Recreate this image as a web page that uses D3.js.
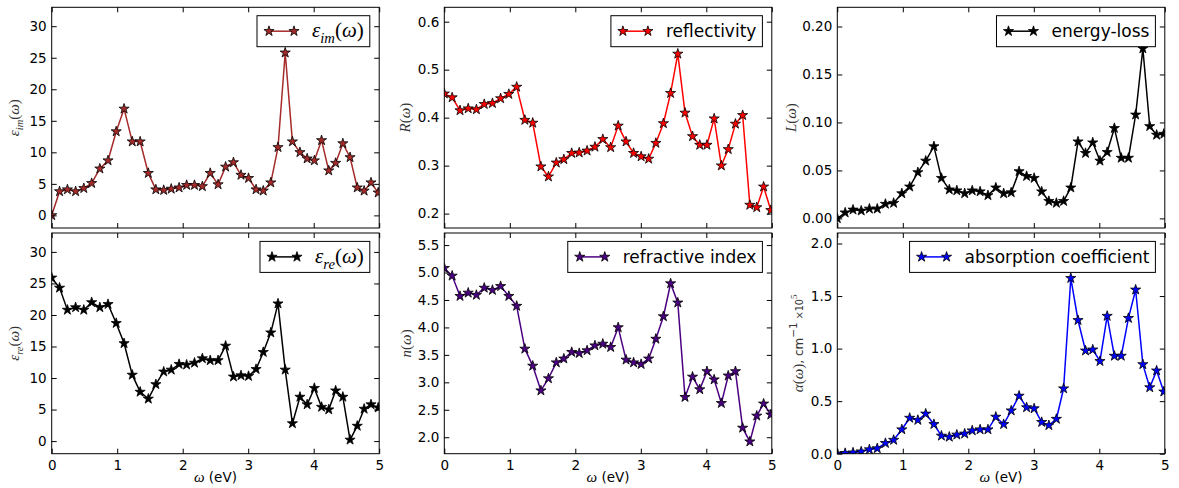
<!DOCTYPE html>
<html>
<head>
<meta charset="utf-8">
<script src="https://cdn.jsdelivr.net/npm/d3@7"></script>
<style>
body { margin: 0; background: #fff; }
svg { display: block; font-family: "DejaVu Sans", sans-serif; }
</style>
</head>
<body>
<div id="chart"></div>
<script>
// photon energy grid (eV)
var omega = [0, 0.12, 0.24, 0.365, 0.49, 0.61, 0.735, 0.86, 0.985, 1.105, 1.23, 1.35, 1.475, 1.59,
  1.71, 1.825, 1.945, 2.06, 2.18, 2.3, 2.42, 2.54, 2.655, 2.775, 2.89, 3.005, 3.12, 3.23, 3.345,
  3.455, 3.565, 3.675, 3.79, 3.9, 4.01, 4.12, 4.23, 4.335, 4.445, 4.555, 4.665, 4.77, 4.875, 4.985];

var epsIm = [0, 3.8, 4.1, 3.8, 4.3, 5.1, 7.4, 8.7, 13.3, 16.9, 11.7, 11.7, 6.7, 4.1, 4.0, 4.2, 4.4,
  4.8, 4.8, 4.6, 6.7, 4.9, 7.7, 8.4, 6.4, 5.9, 4.1, 3.9, 5.2, 10.8, 25.8, 11.7, 10.0, 9.0, 8.7,
  11.9, 7.1, 8.3, 11.4, 9.2, 4.4, 3.9, 5.2, 3.6];

var reflectivity = [0.450, 0.442, 0.415, 0.419, 0.417, 0.428, 0.430, 0.440, 0.449, 0.464, 0.395,
  0.389, 0.298, 0.277, 0.306, 0.313, 0.326, 0.327, 0.331, 0.339, 0.355, 0.338, 0.383, 0.350, 0.326,
  0.319, 0.314, 0.347, 0.388, 0.451, 0.533, 0.410, 0.361, 0.343, 0.343, 0.398, 0.300, 0.334, 0.387,
  0.405, 0.218, 0.213, 0.256, 0.207];

var energyLoss = [0.000, 0.006, 0.009, 0.008, 0.010, 0.010, 0.015, 0.016, 0.026, 0.033, 0.048,
  0.060, 0.075, 0.042, 0.030, 0.029, 0.026, 0.029, 0.028, 0.024, 0.032, 0.026, 0.027, 0.049, 0.044,
  0.042, 0.028, 0.018, 0.016, 0.018, 0.032, 0.080, 0.068, 0.079, 0.060, 0.069, 0.094, 0.063, 0.063,
  0.108, 0.177, 0.096, 0.087, 0.088];

var epsRe = [25.9, 24.3, 20.8, 21.2, 20.8, 22.0, 21.2, 21.7, 18.7, 15.5, 10.5, 7.8, 6.7, 9.0, 11.0,
  11.3, 12.2, 12.1, 12.4, 13.1, 12.8, 12.8, 15.1, 10.2, 10.4, 10.3, 11.4, 14.1, 17.2, 21.8, 11.3,
  2.8, 7.0, 5.8, 8.4, 5.4, 5.0, 8.0, 7.0, 0.2, 2.4, 5.1, 5.8, 5.3];

var refrIndex = [5.08, 4.94, 4.57, 4.63, 4.59, 4.72, 4.68, 4.75, 4.57, 4.39, 3.61, 3.30, 2.85, 3.07,
  3.36, 3.43, 3.55, 3.53, 3.58, 3.67, 3.70, 3.64, 4.00, 3.41, 3.36, 3.33, 3.43, 3.79, 4.20, 4.80,
  4.45, 2.73, 3.10, 2.87, 3.20, 3.05, 2.62, 3.12, 3.20, 2.17, 1.92, 2.39, 2.61, 2.41];

var absorption = [0.00, 0.005, 0.01, 0.02, 0.04, 0.05, 0.10, 0.13, 0.23, 0.34, 0.32, 0.38, 0.28,
  0.17, 0.16, 0.18, 0.19, 0.22, 0.23, 0.23, 0.35, 0.28, 0.41, 0.55, 0.44, 0.43, 0.30, 0.27, 0.33,
  0.62, 1.67, 1.27, 0.98, 0.99, 0.88, 1.31, 0.93, 0.93, 1.29, 1.56, 0.85, 0.63, 0.79, 0.59];

var xTicks = [0, 1, 2, 3, 4, 5];
var epsTicks = [0, 5, 10, 15, 20, 25, 30];
var reflTicks = [0.2, 0.3, 0.4, 0.5, 0.6];
var lossTicks = [0, 0.05, 0.10, 0.15, 0.20];
var nTicks = [2.0, 2.5, 3.0, 3.5, 4.0, 4.5, 5.0, 5.5];
var alphaTicks = [0, 0.5, 1.0, 1.5, 2.0];

var W = 1179, H = 488;
var colLeft = [51.7, 444.3, 837.3], colWidth = 327.5;
var rowTop = [7.3, 233], rowHeight = 220.7;
var SERIF = '"Liberation Serif", "DejaVu Serif", serif';

var panels = [
  { row: 0, col: 0, y: epsIm, dom: [-2, 33], ticks: epsTicks, fmt: "d", color: "#a52a2a", labOff: 37.7,
    ylab: [{t: "ε", it: 1}, {t: "im", it: 1, sub: 1}, {t: "("}, {t: "ω", it: 1}, {t: ")"}],
    leg: [{t: "ε", it: 1}, {t: "im", it: 1, sub: 1}, {t: "("}, {t: "ω", it: 1}, {t: ")"}] },
  { row: 0, col: 1, y: reflectivity, dom: [0.17, 0.63], ticks: reflTicks, fmt: ".1f", color: "#ff0000", labOff: 38.6,
    ylab: [{t: "R", it: 1}, {t: "("}, {t: "ω", it: 1}, {t: ")"}],
    leg: [{t: "reflectivity", sans: 1}] },
  { row: 0, col: 2, y: energyLoss, dom: [-0.01, 0.22], ticks: lossTicks, fmt: ".2f", color: "#000000", labOff: 46.3,
    ylab: [{t: "L", it: 1}, {t: "("}, {t: "ω", it: 1}, {t: ")"}],
    leg: [{t: "energy-loss", sans: 1}] },
  { row: 1, col: 0, y: epsRe, dom: [-2, 33], ticks: epsTicks, fmt: "d", color: "#000000", labOff: 37.7,
    ylab: [{t: "ε", it: 1}, {t: "re", it: 1, sub: 1}, {t: "("}, {t: "ω", it: 1}, {t: ")"}],
    leg: [{t: "ε", it: 1}, {t: "re", it: 1, sub: 1}, {t: "("}, {t: "ω", it: 1}, {t: ")"}] },
  { row: 1, col: 1, y: refrIndex, dom: [1.7, 5.72], ticks: nTicks, fmt: ".1f", color: "#4b0082", labOff: 37.6,
    ylab: [{t: "n", it: 1}, {t: "("}, {t: "ω", it: 1}, {t: ")"}],
    leg: [{t: "refractive index", sans: 1}] },
  { row: 1, col: 2, y: absorption, dom: [0, 2.1], ticks: alphaTicks, fmt: ".1f", color: "#0000ff", labOff: 39,
    ylab: [{t: "α", it: 1}, {t: "("}, {t: "ω", it: 1}, {t: ")"}, {t: ", cm", sans: 1}, {t: "−1", sup: 1, sans: 1},
      {t: " ×10", small: 1, sans: 1}, {t: "5", sup: 1, small: 1}],
    leg: [{t: "absorption coefficient", sans: 1}] }
];

function mathText(sel, parts, size, sansSize) {
  var shift = 0;
  parts.forEach(function(p) {
    var base = p.sans && sansSize ? sansSize : size;
    var s = p.sub ? size * 0.28 : (p.sup ? -size * 0.42 : 0);
    var fs = p.sub || p.sup ? size * 0.7 : (p.small ? base * 0.8 : base);
    if (p.sup && p.small) fs = size * 0.6;
    var ts = sel.append("tspan").text(p.t).attr("dy", s - shift).attr("font-size", fs);
    shift = s;
    if (p.sans) ts.attr("font-family", '"DejaVu Sans", sans-serif');
    else ts.attr("font-family", SERIF);
    if (p.it) ts.attr("font-style", "italic");
  });
}

var star = d3.symbol().type(d3.symbolStar).size(32);

var svg = d3.select("#chart").append("svg")
  .attr("width", W)
  .attr("height", H);

panels.forEach(function(p, i) {
  var x0 = colLeft[p.col], y0 = rowTop[p.row];
  var x = d3.scaleLinear().domain([0, 5]).range([0, colWidth]);
  var y = d3.scaleLinear().domain(p.dom).range([rowHeight, 0]);
  var g = svg.append("g").attr("transform", "translate(" + x0 + "," + y0 + ")");

  g.append("clipPath").attr("id", "clip" + i)
    .append("rect").attr("width", colWidth).attr("height", rowHeight);

  var pts = omega.map(function(w, k) { return [w, p.y[k]]; });
  var line = d3.line()
    .x(function(d) { return x(d[0]); })
    .y(function(d) { return y(d[1]); });

  var plot = g.append("g").attr("clip-path", "url(#clip" + i + ")");
  plot.append("path")
    .datum(pts)
    .attr("d", line)
    .attr("fill", "none")
    .attr("stroke", p.color)
    .attr("stroke-width", 1.5);
  plot.selectAll(".pt")
    .data(pts)
    .enter()
    .append("path")
    .attr("transform", function(d) { return "translate(" + x(d[0]) + "," + y(d[1]) + ")"; })
    .attr("d", star)
    .attr("fill", p.color)
    .attr("stroke", "#000")
    .attr("stroke-width", 0.8);

  // ticks point inward on all four sides
  var fmt = d3.format(p.fmt);
  var left = g.append("g").call(d3.axisLeft(y).tickValues(p.ticks).tickFormat(fmt).tickSize(-5).tickPadding(5));
  var right = g.append("g").attr("transform", "translate(" + colWidth + ",0)")
    .call(d3.axisRight(y).tickValues(p.ticks).tickFormat("").tickSize(-5));
  var bottom = g.append("g").attr("transform", "translate(0," + rowHeight + ")")
    .call(d3.axisBottom(x).tickValues(xTicks).tickFormat(p.row == 1 ? d3.format("d") : "").tickSize(-5).tickPadding(7));
  var top = g.append("g")
    .call(d3.axisTop(x).tickValues(xTicks).tickFormat("").tickSize(-5));
  [left, right, bottom, top].forEach(function(a) {
    a.select(".domain").remove();
    a.selectAll("line").attr("stroke", "#000");
    a.selectAll("text").attr("font-size", 13.5).attr("fill", "#000")
      .attr("font-family", '"DejaVu Sans", sans-serif');
  });

  g.append("rect")
    .attr("width", colWidth)
    .attr("height", rowHeight)
    .attr("fill", "none")
    .attr("stroke", "#000")
    .attr("stroke-width", 1);

  // y label
  var yl = g.append("text")
    .attr("transform", "translate(" + (-p.labOff) + "," + (rowHeight / 2) + ") rotate(-90)")
    .attr("text-anchor", "middle")
    .attr("y", 4.5)
    .attr("fill", "#333");
  mathText(yl, p.ylab, 15, 12);

  // x label on bottom row
  if (p.row == 1) {
    var xl = g.append("text")
      .attr("x", colWidth / 2)
      .attr("y", rowHeight + 28.5)
      .attr("text-anchor", "middle")
      .attr("fill", "#000");
    mathText(xl, [{t: "ω", it: 1}, {t: " (eV)", sans: 1}], 15, 13.5);
  }

  // legend
  var lg = g.append("g");
  var lt = lg.append("text").attr("y", 0).attr("fill", "#000");
  mathText(lt, p.leg, 21, 17);
  var tw = lt.node().getComputedTextLength();
  var boxW = 55 + tw + 6, boxH = 31;
  var bx = colWidth - 9.4 - boxW, by = 8.4;
  lg.insert("rect", "text")
    .attr("x", bx).attr("y", by)
    .attr("width", boxW).attr("height", boxH)
    .attr("fill", "#fff")
    .attr("stroke", "#000")
    .attr("stroke-width", 1);
  lt.attr("x", bx + 55).attr("y", by + 21.5);
  var ly = by + boxH / 2;
  lg.append("line")
    .attr("x1", bx + 12).attr("x2", bx + 37)
    .attr("y1", ly).attr("y2", ly)
    .attr("stroke", p.color)
    .attr("stroke-width", 1.5);
  lg.selectAll(".lm")
    .data([bx + 12, bx + 37])
    .enter()
    .append("path")
    .attr("transform", function(d) { return "translate(" + d + "," + ly + ")"; })
    .attr("d", star)
    .attr("fill", p.color)
    .attr("stroke", "#000")
    .attr("stroke-width", 0.8);
});
</script>
</body>
</html>
